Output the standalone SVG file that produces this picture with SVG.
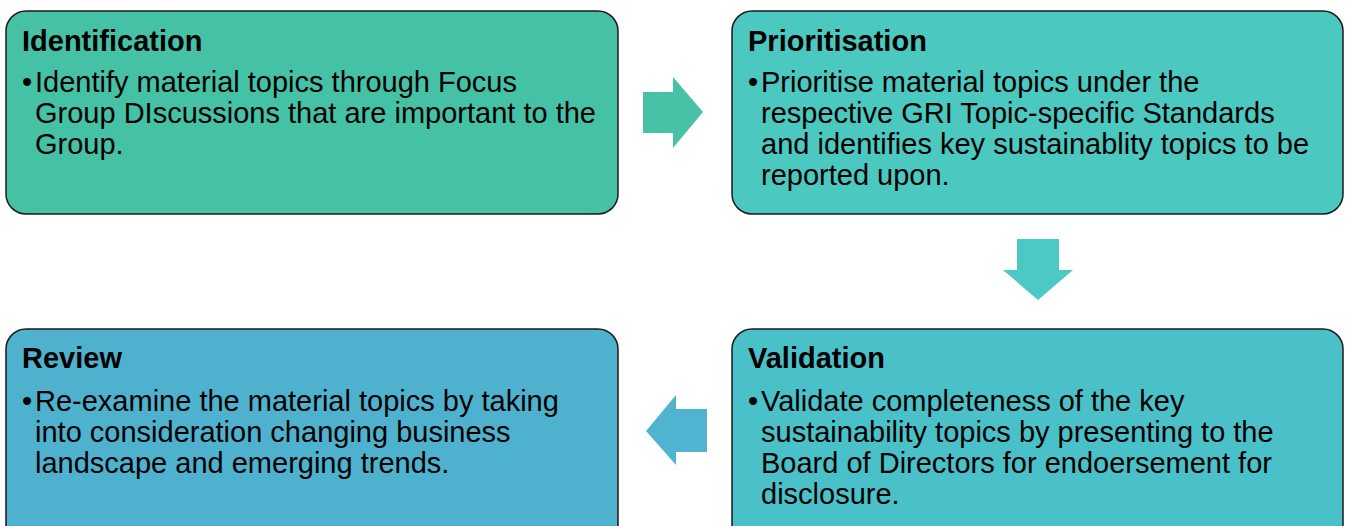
<svg xmlns="http://www.w3.org/2000/svg" width="1349" height="526" viewBox="0 0 1349 526">
<style>
.box{stroke:#1a1a1a;stroke-width:1.5}
.t{font-family:"Liberation Sans",Arial,sans-serif;font-size:29px;font-weight:bold;fill:#000}
.b{font-family:"Liberation Sans",Arial,sans-serif;font-size:29px;fill:#000}
</style>
<rect width="1349" height="526" fill="#fff"/>
<g id="identification">
<rect class="box" x="6" y="11" width="612" height="203" rx="20" fill="#45C2A6"/>
<text class="t" x="22" y="51">Identification</text>
<text class="b" x="22" y="92">•<tspan x="35">Identify material topics through Focus</tspan><tspan x="35" y="123">Group DIscussions that are important to the</tspan><tspan x="35" y="154">Group.</tspan></text>
</g>
<g id="prioritisation">
<rect class="box" x="732" y="11" width="611" height="203" rx="20" fill="#4BC8BF"/>
<text class="t" x="748" y="51">Prioritisation</text>
<text class="b" x="748" y="92">•<tspan x="761">Prioritise material topics under the</tspan><tspan x="761" y="123">respective GRI Topic-specific Standards</tspan><tspan x="761" y="154">and identifies key sustainablity topics to be</tspan><tspan x="761" y="185">reported upon.</tspan></text>
</g>
<g id="review">
<rect class="box" x="6" y="329" width="612" height="220" rx="20" fill="#4EB2CF"/>
<text class="t" x="22" y="368">Review</text>
<text class="b" x="22" y="411">•<tspan x="35">Re-examine the material topics by taking</tspan><tspan x="35" y="442">into consideration changing business</tspan><tspan x="35" y="473">landscape and emerging trends.</tspan></text>
</g>
<g id="validation">
<rect class="box" x="732" y="329" width="611" height="220" rx="20" fill="#4AC1C9"/>
<text class="t" x="748" y="368">Validation</text>
<text class="b" x="748" y="411">•<tspan x="761">Validate completeness of the key</tspan><tspan x="761" y="442">sustainability topics by presenting to the</tspan><tspan x="761" y="473">Board of Directors for endoersement for</tspan><tspan x="761" y="504">disclosure.</tspan></text>
</g>
<g id="connectors">
<polygon points="643,92 673,92 673,77 703,112 673,148 673,133 643,133" fill="#48C2A6"/>
<polygon points="1017,239 1059,239 1059,270 1073,270 1038,300 1003,270 1017,270" fill="#4DC9C5"/>
<polygon points="707,409 676,409 676,395 646,431 676,465 676,452 707,452" fill="#4EB4D0"/>
</g>
</svg>
